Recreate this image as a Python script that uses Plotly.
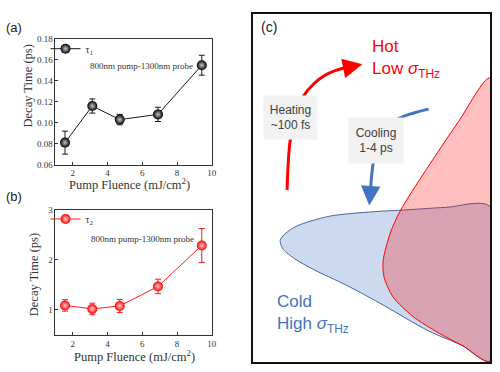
import plotly.graph_objects as go

# ---------------- data ----------------
fluence = [1.55, 3.12, 4.7, 6.9, 9.42]
tau1 = [0.081, 0.116, 0.103, 0.108, 0.155]
tau1_err = [0.011, 0.0068, 0.005, 0.0068, 0.0095]
tau2 = [1.09, 1.02, 1.08, 1.47, 2.29]
tau2_err = [0.115, 0.115, 0.13, 0.145, 0.34]
x_ticks = [2, 4, 6, 8, 10]
y1_ticks = [0.06, 0.08, 0.10, 0.12, 0.14, 0.16, 0.18]
y1_labels = ["0.06", "0.08", "0.10", "0.12", "0.14", "0.16", "0.18"]
y2_ticks = [1, 2, 3]

# schematic (c) outlines, in panel pixel units
cold_x = [495, 450, 403, 383, 333, 300, 288, 283, 286, 298, 317, 350, 383, 433, 467, 495, 495]
cold_y = [207, 208, 211, 212, 217, 227, 235, 242, 251, 261, 272, 288, 306, 335, 350, 366, 207]
hot_x = [495, 463, 430, 404, 394, 387, 388, 397, 417, 443, 467, 495, 495]
hot_y = [75, 120, 170, 212, 235, 263, 280, 300, 320, 337, 350, 366, 75]
heat_x = [290, 291, 293, 298, 307, 316, 327, 340, 356]
heat_y = [190, 165, 140, 115, 93, 82, 73, 67, 63]
cool_x = [433, 418, 402, 390, 381, 377, 375, 374]
cool_y = [107, 111, 117, 127, 142, 162, 180, 196]

W, H = 500, 372
def px(x):
    return x / W
def py(y):
    return 1 - y / H

serif = "Liberation Serif"
sans = "Liberation Sans"

fig = go.Figure()

fig.add_trace(go.Scatter(
    x=fluence, y=tau1, mode="lines+markers", name="τ<sub>1</sub>",
    line=dict(color="#1a1a1a", width=1),
    marker=dict(color="#000000", size=10, gradient=dict(type="radial", color="#c8c8c8"),
                line=dict(width=0)),
    error_y=dict(type="data", array=tau1_err, color="#1a1a1a", thickness=1, width=3),
    xaxis="x", yaxis="y", legend="legend"))

fig.add_trace(go.Scatter(
    x=fluence, y=tau2, mode="lines+markers", name="τ<sub>2</sub>",
    line=dict(color="#ff1a1a", width=1),
    marker=dict(color="#ff0000", size=10, gradient=dict(type="radial", color="#ffd0d0"),
                line=dict(width=0)),
    error_y=dict(type="data", array=tau2_err, color="#ff1a1a", thickness=1, width=3),
    xaxis="x2", yaxis="y2", legend="legend2"))

# panel (c)
fig.add_trace(go.Scatter(
    x=cold_x, y=cold_y, mode="lines", fill="toself", fillcolor="#ccd9ee",
    line=dict(color="#4a66a0", width=1, shape="spline", smoothing=0.8),
    xaxis="x3", yaxis="y3", showlegend=False, hoverinfo="skip"))
fig.add_trace(go.Scatter(
    x=hot_x, y=hot_y, mode="lines", fill="toself", fillcolor="rgba(255,0,0,0.25)",
    line=dict(color="#ff0000", width=1, shape="spline", smoothing=0.8),
    xaxis="x3", yaxis="y3", showlegend=False, hoverinfo="skip"))
fig.add_trace(go.Scatter(
    x=heat_x, y=heat_y, mode="lines",
    line=dict(color="#ff0000", width=3, shape="spline"),
    xaxis="x3", yaxis="y3", showlegend=False, hoverinfo="skip"))
fig.add_trace(go.Scatter(
    x=cool_x, y=cool_y, mode="lines",
    line=dict(color="#4472c4", width=3, shape="spline"),
    xaxis="x3", yaxis="y3", showlegend=False, hoverinfo="skip"))

axis_common = dict(showline=True, mirror=True, linecolor="#333333", linewidth=1,
                   ticks="inside", ticklen=3, tickcolor="#333333",
                   showgrid=False, zeroline=False,
                   tickfont=dict(family=serif, size=9, color="#333333"))

fig.update_layout(
    width=W, height=H,
    margin=dict(l=0, r=0, t=0, b=0),
    paper_bgcolor="white", plot_bgcolor="white",
    xaxis=dict(domain=[px(56), px(214)], range=[1, 10], tickvals=x_ticks,
               anchor="y", **axis_common),
    yaxis=dict(domain=[py(164), py(35)], range=[0.06, 0.18], tickvals=y1_ticks,
               ticktext=y1_labels, anchor="x", **axis_common),
    xaxis2=dict(domain=[px(56), px(214)], range=[1, 10], tickvals=x_ticks,
                anchor="y2", **axis_common),
    yaxis2=dict(domain=[py(339), py(210.7)], range=[0.5, 3], tickvals=y2_ticks,
                anchor="x2", **axis_common),
    xaxis3=dict(domain=[px(256), px(495)], range=[256, 495], anchor="y3",
                showline=True, mirror=True, linecolor="#111111", linewidth=2,
                showgrid=False, zeroline=False, showticklabels=False, ticks=""),
    yaxis3=dict(domain=[py(367), py(9)], range=[367, 9], anchor="x3",
                showline=True, mirror=True, linecolor="#111111", linewidth=2,
                showgrid=False, zeroline=False, showticklabels=False, ticks=""),
    legend=dict(x=px(46), y=py(30), xanchor="left", yanchor="top",
                bgcolor="rgba(0,0,0,0)", font=dict(family=serif, size=10, color="#333"),
                itemwidth=30, tracegroupgap=0),
    legend2=dict(x=px(46), y=py(205), xanchor="left", yanchor="top",
                 bgcolor="rgba(0,0,0,0)", font=dict(family=serif, size=10, color="#333"),
                 itemwidth=30, tracegroupgap=0),
    showlegend=True,
)

ann = []
# panel labels
ann.append(dict(text="(a)", x=px(4), y=py(23), xref="paper", yref="paper",
                xanchor="left", yanchor="middle", showarrow=False,
                font=dict(family=sans, size=13, color="#222")))
ann.append(dict(text="(b)", x=px(4), y=py(197), xref="paper", yref="paper",
                xanchor="left", yanchor="middle", showarrow=False,
                font=dict(family=sans, size=13, color="#222")))
# axis titles
ann.append(dict(text="Decay Time (ps)", x=px(28), y=py(83), xref="paper", yref="paper",
                textangle=-90, showarrow=False, xanchor="center", yanchor="middle",
                font=dict(family=serif, size=12.5, color="#333")))
ann.append(dict(text="Decay Time (ps)", x=px(34), y=py(277), xref="paper", yref="paper",
                textangle=-90, showarrow=False, xanchor="center", yanchor="middle",
                font=dict(family=serif, size=12.5, color="#333")))
ann.append(dict(text="Pump Fluence (mJ/cm<sup>2</sup>)", x=px(131), y=py(184),
                xref="paper", yref="paper", showarrow=False,
                xanchor="center", yanchor="middle",
                font=dict(family=serif, size=12.5, color="#333")))
ann.append(dict(text="Pump Fluence (mJ/cm<sup>2</sup>)", x=px(136), y=py(361),
                xref="paper", yref="paper", showarrow=False,
                xanchor="center", yanchor="middle",
                font=dict(family=serif, size=12.5, color="#333")))
ann.append(dict(text="800nm pump-1300nm probe", x=px(143), y=py(63),
                xref="paper", yref="paper", showarrow=False,
                xanchor="center", yanchor="middle",
                font=dict(family=serif, size=9, color="#333")))
ann.append(dict(text="800nm pump-1300nm probe", x=px(144), y=py(240),
                xref="paper", yref="paper", showarrow=False,
                xanchor="center", yanchor="middle",
                font=dict(family=serif, size=9, color="#333")))

# panel (c) texts
ann.append(dict(text="(c)", x=262, y=23, xref="x3", yref="y3", showarrow=False,
                xanchor="left", yanchor="middle",
                font=dict(family=sans, size=14, color="#222")))
ann.append(dict(text="Hot", x=374, y=43, xref="x3", yref="y3", showarrow=False,
                xanchor="left", yanchor="middle",
                font=dict(family=sans, size=17, color="#ff0000")))
ann.append(dict(text="Low <i>σ</i><sub>THz</sub>", x=374, y=67, xref="x3", yref="y3",
                showarrow=False, xanchor="left", yanchor="middle",
                font=dict(family=sans, size=17, color="#ff0000")))
ann.append(dict(text="Cold", x=278, y=305, xref="x3", yref="y3", showarrow=False,
                xanchor="left", yanchor="middle",
                font=dict(family=sans, size=17, color="#4472c4")))
ann.append(dict(text="High <i>σ</i><sub>THz</sub>", x=278, y=329, xref="x3", yref="y3",
                showarrow=False, xanchor="left", yanchor="middle",
                font=dict(family=sans, size=17, color="#4472c4")))
ann.append(dict(text="Heating<br>~100 fs", x=293.5, y=115.5, xref="x3", yref="y3",
                showarrow=False, xanchor="center", yanchor="middle",
                width=53, height=43, bgcolor="#f2f2f2", borderpad=0,
                font=dict(family=sans, size=12, color="#404040")))
ann.append(dict(text="Cooling<br>1-4 ps", x=380, y=139.5, xref="x3", yref="y3",
                showarrow=False, xanchor="center", yanchor="middle",
                width=54, height=45, bgcolor="#f2f2f2", borderpad=0,
                font=dict(family=sans, size=12, color="#404040")))
# arrow heads
ann.append(dict(text="", x=366, y=61, ax=352, ay=64, xref="x3", yref="y3",
                axref="x3", ayref="y3", showarrow=True, arrowhead=2, arrowsize=1.3,
                arrowwidth=3, arrowcolor="#ff0000"))
ann.append(dict(text="", x=373, y=206, ax=374, ay=192, xref="x3", yref="y3",
                axref="x3", ayref="y3", showarrow=True, arrowhead=2, arrowsize=1.3,
                arrowwidth=3, arrowcolor="#4472c4"))

fig.update_layout(annotations=ann)

fig.write_html("out.html",
               config={"displayModeBar": False},
               post_script="document.body.style.margin='0';document.body.style.padding='0';document.body.style.overflow='hidden';")
